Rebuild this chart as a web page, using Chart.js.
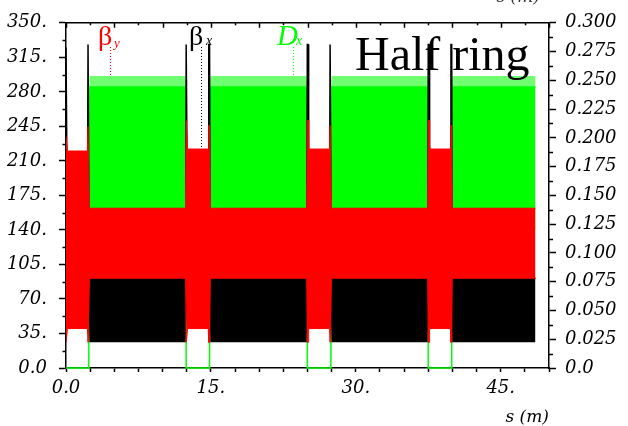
<!DOCTYPE html>
<html><head><meta charset="utf-8">
<script src="https://cdn.jsdelivr.net/npm/chart.js@4.4.0/dist/chart.umd.min.js"></script>
<style>html,body{margin:0;padding:0;background:#fff;}canvas{display:block;}</style>
</head><body>
<canvas id="c" width="628" height="426"></canvas>
<script>
// Lattice sections along s (m): insertions and arc cells
const segKind  = ['ins', 'arc', 'ins', 'arc', 'ins', 'arc', 'ins', 'arc'];
const segStart = [0,    2.42,  12.44, 14.94, 24.98, 27.48, 37.50, 39.98];
const segEnd   = [2.36, 12.38, 14.86, 24.92, 27.42, 37.44, 39.93, 48.60];

// beta_y (m): band envelope per section, plus values at insertion edges
const betaYMax      = [220, 162, 222, 162, 222, 162, 222, 162];
const betaYMin      = [40,  91,  40,  91,  40,  91,  40,  91];
const betaYEdgeMaxL = [235, null, 251, null, 251, null, 251, null];
const betaYEdgeMaxR = [245, null, 246, null, 246, null, 246, null];
const betaYEdgeMinL = [26,  null, 26,  null, 26,  null, 26,  null];
const betaYEdgeMinR = [26,  null, 26,  null, 26,  null, 26,  null];

// beta_x (m)
const betaXMax      = [150, 91, 150, 91, 150, 91, 150, 91];
const betaXMin      = [60,  26, 60,  26, 60,  26, 60,  26];
const betaXEdgeMaxL = [325, null, 328, null, 328, null, 328, null];
const betaXEdgeMaxR = [328, null, 328, null, 328, null, 328, null];

// D_x (m)
const dxMax = [0, 0.2537, 0, 0.2537, 0, 0.2537, 0, 0.2537];
const dxMid = [0, 0.2443, 0, 0.2443, 0, 0.2443, 0, 0.2443];
const dxMin = [0, 0.12,   0, 0.12,   0, 0.12,   0, 0.12];

// tick labels
const xTickLabels  = ['0.0', '15.', '30.', '45.'];
const yTickLabels  = ['0.0', '35.', '70.', '105.', '140.', '175.', '210.', '245.', '280.', '315.', '350.'];
const y1TickLabels = ['0.0', '0.025', '0.050', '0.075', '0.100', '0.125', '0.150', '0.175', '0.200', '0.225', '0.250', '0.275', '0.300'];

function build(maxA, minA, eMaxL, eMaxR, eMinL, eMinR) {
  const hi = [], lo = [];
  for (let i = 0; i < segKind.length; i++) {
    const a = segStart[i], b = segEnd[i];
    if (segKind[i] === 'ins' && eMaxL) {
      const w = 0.08, r = 0.06;
      const xs = [a, a + w, a + w + r, b - w - r, b - w, b];
      const h = [eMaxL[i], eMaxL[i], maxA[i], maxA[i], eMaxR[i], eMaxR[i]];
      const l = eMinL ? [eMinL[i], eMinL[i], minA[i], minA[i], eMinR[i], eMinR[i]]
                      : [minA[i], minA[i], minA[i], minA[i], minA[i], minA[i]];
      xs.forEach((x, k) => { hi.push({x, y: h[k]}); lo.push({x, y: l[k]}); });
    } else {
      hi.push({x: a, y: maxA[i]}, {x: b, y: maxA[i]});
      lo.push({x: a, y: minA[i]}, {x: b, y: minA[i]});
    }
  }
  return {hi, lo};
}

const red = build(betaYMax, betaYMin, betaYEdgeMaxL, betaYEdgeMaxR, betaYEdgeMinL, betaYEdgeMinR);
const blk = build(betaXMax, betaXMin, betaXEdgeMaxL, betaXEdgeMaxR, null, null);
const dxT = build(dxMax, dxMid);
const dxL = build(dxMid, dxMin);

const tickFont = {family: 'DejaVu Serif', style: 'italic', size: 18};

const extras = {
  id: 'extras',
  afterDraw(chart) {
    const {ctx, chartArea: ca, scales} = chart;
    const xs = scales.x, yl = scales.y, yr = scales.y1;
    ctx.save();
    ctx.strokeStyle = '#000';
    ctx.lineWidth = 1.5;
    ctx.beginPath();
    ctx.moveTo(ca.left, ca.top); ctx.lineTo(ca.right, ca.top);
    for (let k = 0; k <= 20; k++) {
      const px = Math.round(xs.getPixelForValue(k * 2.5)) + 0.5;
      const len = k % 2 === 0 ? 5 : 2.5;
      ctx.moveTo(px, ca.top); ctx.lineTo(px, ca.top + len);
    }
    for (let k = 0; k < 10; k++) {
      const py = Math.round(yl.getPixelForValue(17.5 + 35 * k)) + 0.5;
      ctx.moveTo(ca.left, py); ctx.lineTo(ca.left - 3.5, py);
    }
    for (let k = 0; k < 12; k++) {
      const py = Math.round(yr.getPixelForValue(0.0125 + 0.025 * k)) + 0.5;
      ctx.moveTo(ca.right, py); ctx.lineTo(ca.right + 4, py);
    }
    ctx.stroke();

    // label pointers
    ctx.lineWidth = 1;
    ctx.setLineDash([1, 2]);
    const ptr = (s, yEnd, col) => {
      const px = Math.round(xs.getPixelForValue(s)) + 0.5;
      ctx.strokeStyle = col;
      ctx.beginPath(); ctx.moveTo(px, 47); ctx.lineTo(px, yEnd); ctx.stroke();
    };
    ptr(4.55, yr.getPixelForValue(0.2537), '#ff0000');
    ptr(13.98, yl.getPixelForValue(222), '#000000');
    ptr(23.47, yr.getPixelForValue(0.2537), '#00ff00');
    ctx.setLineDash([]);

    ctx.textAlign = 'left';
    ctx.textBaseline = 'alphabetic';
    ctx.fillStyle = '#ff0000';
    ctx.font = '28px "Liberation Serif"';
    ctx.fillText('β', 98, 45);
    ctx.font = 'italic 13px "Liberation Serif"';
    ctx.fillText('y', 114, 47);
    ctx.fillStyle = '#000000';
    ctx.font = '28px "Liberation Serif"';
    ctx.fillText('β', 189, 45);
    ctx.font = 'italic 14px "Liberation Serif"';
    ctx.fillText('x', 206, 45);
    ctx.fillStyle = '#00ff00';
    ctx.font = 'italic 29px "Liberation Serif"';
    ctx.fillText('D', 277, 45);
    ctx.font = 'italic 14px "Liberation Serif"';
    ctx.fillText('x', 296, 45);

    ctx.fillStyle = '#000000';
    ctx.font = '48px "Liberation Serif"';
    ctx.fillText('Half ring', 355, 70);

    ctx.font = 'italic 17px "DejaVu Serif"';
    ctx.textAlign = 'right';
    ctx.fillStyle = '#333';
    ctx.fillText('s (m)', 540, 2);
    ctx.restore();
  }
};

new Chart(document.getElementById('c'), {
  type: 'line',
  data: {
    datasets: [
      {label: 'beta_y', data: red.hi, yAxisID: 'y', borderColor: '#ff0000', backgroundColor: '#ff0000', borderWidth: 1, fill: '+1', order: 1},
      {label: 'beta_y min', data: red.lo, yAxisID: 'y', borderColor: '#ff0000', borderWidth: 1, fill: false, order: 2},
      {label: 'beta_x', data: blk.hi, yAxisID: 'y', borderColor: '#000000', backgroundColor: '#000000', borderWidth: 1.5, fill: '+1', order: 3},
      {label: 'beta_x min', data: blk.lo, yAxisID: 'y', borderColor: '#000000', borderWidth: 0, fill: false, order: 4},
      {label: 'Dx top', data: dxT.hi, yAxisID: 'y1', borderColor: '#70ff70', backgroundColor: '#70ff70', borderWidth: 0, fill: '+1', order: 6},
      {label: 'Dx', data: dxT.lo, yAxisID: 'y1', borderColor: '#00ff00', backgroundColor: '#00ff00', borderWidth: 1.5, fill: '+1', order: 5, clip: false},
      {label: 'Dx min', data: dxL.lo, yAxisID: 'y1', borderColor: '#00ff00', borderWidth: 0, fill: false, order: 7}
    ]
  },
  options: {
    responsive: false,
    animation: false,
    devicePixelRatio: 1,
    events: [],
    layout: {padding: {top: 19, left: 0, right: 0, bottom: 0}},
    elements: {point: {radius: 0}, line: {tension: 0}},
    plugins: {legend: {display: false}, tooltip: {enabled: false}},
    scales: {
      x: {
        type: 'linear', position: 'bottom', min: 0, max: 50,
        afterFit: s => { s.height = 58; },
        grid: {drawOnChartArea: false, drawTicks: true, tickLength: 4, tickColor: '#000', tickWidth: 1.5},
        border: {color: '#000', width: 1.5},
        ticks: {
          stepSize: 2.5, autoSkip: false, maxRotation: 0, padding: 6, color: '#000', font: tickFont,
          callback: v => { const k = Math.round(v / 2.5); return k % 6 === 0 ? xTickLabels[k / 6] : ''; }
        },
        title: {display: true, text: 's (m)', align: 'end', color: '#000', padding: 0,
                font: {family: 'DejaVu Serif', style: 'italic', size: 17, lineHeight: 1}}
      },
      y: {
        type: 'linear', position: 'left', min: 0, max: 350,
        afterFit: s => { s.width = 66; },
        grid: {drawOnChartArea: false, drawTicks: true, tickLength: 7, tickColor: '#000', tickWidth: 1.5},
        border: {color: '#000', width: 1.5},
        ticks: {stepSize: 35, padding: 12, color: '#000', font: tickFont,
                callback: v => yTickLabels[Math.round(v / 35)]}
      },
      y1: {
        type: 'linear', position: 'right', min: 0, max: 0.3,
        afterFit: s => { s.width = 79; },
        grid: {drawOnChartArea: false, drawTicks: true, tickLength: 7, tickColor: '#000', tickWidth: 1.5},
        border: {color: '#000', width: 1.5},
        ticks: {stepSize: 0.025, padding: 9, color: '#000', font: tickFont,
                callback: v => y1TickLabels[Math.round(v / 0.025)]}
      }
    }
  },
  plugins: [extras]
});
</script>
</body></html>
